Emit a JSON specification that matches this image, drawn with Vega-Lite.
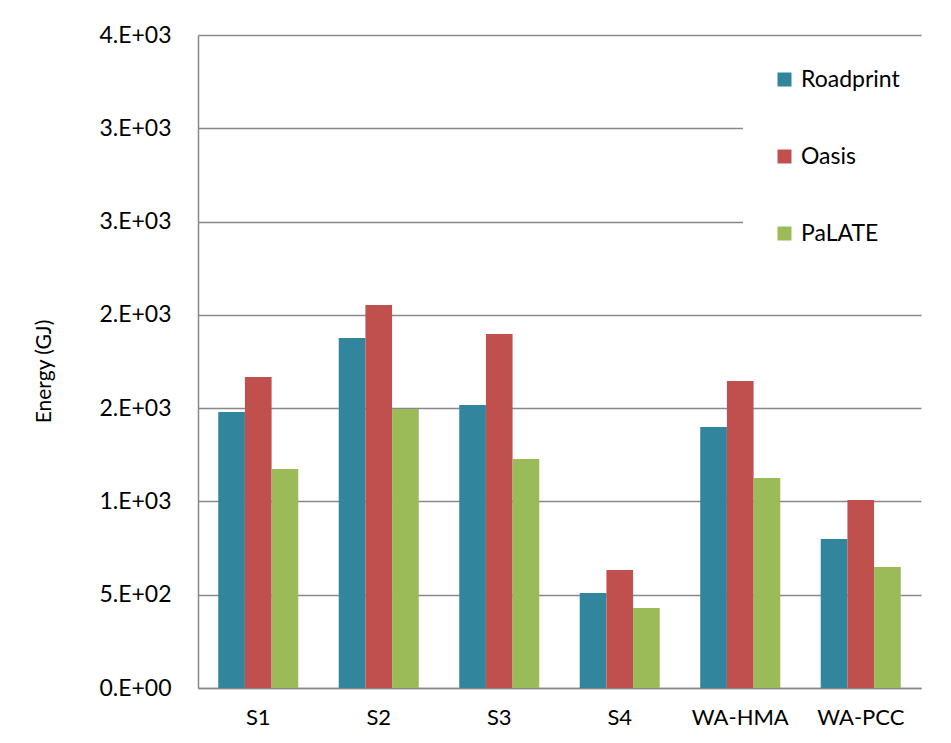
{
  "$schema": "https://vega.github.io/schema/vega-lite/v6.json",
  "width": 723,
  "height": 653,
  "autosize": "none",
  "padding": {"left": 198, "top": 35, "right": 30, "bottom": 55},
  "background": "white",
  "config": {"view": {"stroke": null}, "font": "Lato"},
  "data": {
    "values": [
      {"scenario": "S1", "tool": "Roadprint", "energy": 1479},
      {"scenario": "S1", "tool": "Oasis", "energy": 1667},
      {"scenario": "S1", "tool": "PaLATE", "energy": 1174},
      {"scenario": "S2", "tool": "Roadprint", "energy": 1876},
      {"scenario": "S2", "tool": "Oasis", "energy": 2053},
      {"scenario": "S2", "tool": "PaLATE", "energy": 1495},
      {"scenario": "S3", "tool": "Roadprint", "energy": 1517},
      {"scenario": "S3", "tool": "Oasis", "energy": 1897},
      {"scenario": "S3", "tool": "PaLATE", "energy": 1227},
      {"scenario": "S4", "tool": "Roadprint", "energy": 509},
      {"scenario": "S4", "tool": "Oasis", "energy": 632},
      {"scenario": "S4", "tool": "PaLATE", "energy": 429},
      {"scenario": "WA-HMA", "tool": "Roadprint", "energy": 1399},
      {"scenario": "WA-HMA", "tool": "Oasis", "energy": 1645},
      {"scenario": "WA-HMA", "tool": "PaLATE", "energy": 1126},
      {"scenario": "WA-PCC", "tool": "Roadprint", "energy": 799},
      {"scenario": "WA-PCC", "tool": "Oasis", "energy": 1008},
      {"scenario": "WA-PCC", "tool": "PaLATE", "energy": 649}
    ]
  },
  "mark": {"type": "bar"},
  "encoding": {
    "x": {
      "field": "scenario",
      "type": "nominal",
      "sort": ["S1", "S2", "S3", "S4", "WA-HMA", "WA-PCC"],
      "scale": {"paddingInner": 0.336, "paddingOuter": 0.168},
      "axis": {
        "title": null,
        "labelAngle": 0,
        "labelFontSize": 22,
        "labelColor": "#000000",
        "labelPadding": 19,
        "ticks": false,
        "domainColor": "#888888",
        "domainWidth": 1.5,
        "grid": false
      }
    },
    "xOffset": {"field": "tool", "type": "nominal", "sort": ["Roadprint", "Oasis", "PaLATE"]},
    "y": {
      "field": "energy",
      "type": "quantitative",
      "scale": {"domain": [0, 3500], "nice": false},
      "axis": {
        "title": "Energy (GJ)",
        "titleFontSize": 21,
        "titleFontWeight": "normal",
        "titleColor": "#000000",
        "titleAngle": -90,
        "titleBaseline": "middle",
        "titleX": -154,
        "titleY": 336,
        "values": [0, 500, 1000, 1500, 2000, 2500, 3000, 3500],
        "labelExpr": "replace(format(datum.value, '.0e'), 'e+', '.E+0')",
        "labelFontSize": 23,
        "labelColor": "#000000",
        "labelPadding": 27,
        "ticks": false,
        "domainColor": "#888888",
        "domainWidth": 1.5,
        "grid": true,
        "gridColor": "#888888",
        "gridWidth": 1.5
      }
    },
    "color": {
      "field": "tool",
      "type": "nominal",
      "scale": {"domain": ["Roadprint", "Oasis", "PaLATE"], "range": ["#31859C", "#C0504D", "#9BBB59"]},
      "legend": {
        "title": null,
        "orient": "none",
        "legendX": 545,
        "legendY": 3,
        "padding": 30,
        "fillColor": "white",
        "symbolType": "square",
        "symbolSize": 196,
        "symbolStrokeWidth": 0,
        "symbolOpacity": 1,
        "labelFontSize": 23,
        "labelColor": "#000000",
        "labelOffset": 5,
        "rowPadding": 53
      }
    }
  }
}
